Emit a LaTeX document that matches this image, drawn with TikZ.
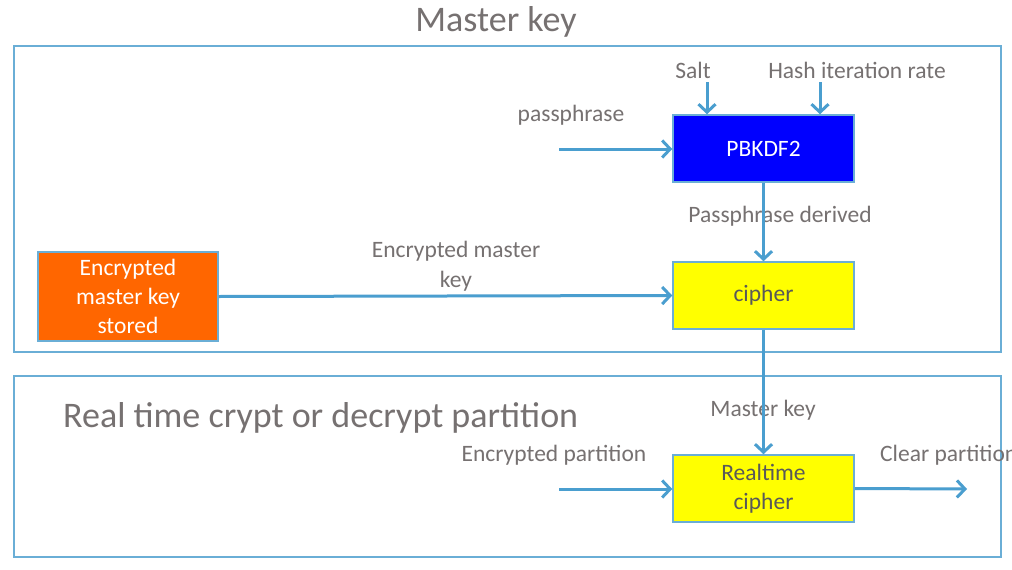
\documentclass[tikz,border=0pt]{standalone}
\usepackage{fontspec}
\setmainfont{Carlito}
\usetikzlibrary{arrows.meta}
\definecolor{framec}{HTML}{6AAED6}
\definecolor{arrowc}{HTML}{4A9ECF}
\definecolor{txt}{HTML}{767171}
\definecolor{boxtxt}{HTML}{595959}
\definecolor{orng}{HTML}{FF6600}
\definecolor{yell}{HTML}{FFFF00}
\definecolor{blu}{HTML}{0000FF}
\tikzset{
  frame/.style={draw=framec, line width=1.5pt},
  lbl/.style={text=txt, font=\fontsize{23.5}{30}\selectfont, inner sep=0pt},
  big/.style={text=txt, font=\fontsize{36}{40}\selectfont, inner sep=0pt},
  block/.style={draw=framec, line width=1.5pt, minimum width=181pt, minimum height=67pt, inner sep=0pt, align=center, font=\fontsize{23.5}{29}\selectfont},
  flow/.style={draw=arrowc, line width=3pt, -{Straight Barb[length=8pt,width=17pt]}},
}
\begin{document}
\begin{tikzpicture}[x=1pt,y=-1pt]
\useasboundingbox (0,0) rectangle (1012,570);
\clip (0,0) rectangle (1012,570);
\fill[white] (0,0) rectangle (1012,570);
% frames
\draw[frame] (14,46) rectangle (1001,352);
\draw[frame] (14,376) rectangle (1001,557);
\node[big] (title) at (496,22) {Master key};
\node[big, anchor=west] (rtitle) at (63,418) {Real time crypt or decrypt partition};
% blocks
\node[block, fill=blu, text=white] (pbkdf) at (763.5,148.5) {PBKDF2};
\node[block, fill=yell, text=boxtxt] (cipher) at (763.5,295.5) {cipher};
\node[block, fill=yell, text=boxtxt] (rt) at (763.5,488.5) {Realtime\\cipher};
\node[block, fill=orng, text=white, minimum width=180pt, minimum height=89pt] (stored) at (128,296.5) {Encrypted\\master key\\stored};
% labels
\node[lbl] (salt) at (693,70) {Salt};
\node[lbl] (hash) at (857,70) {Hash iteration rate};
\node[lbl] (pass) at (571,115) {passphrase};
\node[lbl] (pder) at (780,216) {Passphrase derived};
\node[lbl, align=center] (emk) at (456,266) {Encrypted master\\key};
\node[lbl] (mk) at (763,410) {Master key};
\node[lbl] (ep) at (554,455) {Encrypted partition};
\node[lbl, anchor=west] (cp) at (880,455) {Clear partition};
% free ends
\coordinate (saltin) at (707,82);
\coordinate (hashin) at (820,82);
\coordinate (passin) at (559,149);
\coordinate (epin) at (559,489);
\coordinate (cpout) at (967,489);
% connectors
\draw[flow] (saltin) -- (saltin |- pbkdf.north);
\draw[flow] (hashin) -- (hashin |- pbkdf.north);
\draw[flow] (passin) -- (passin -| pbkdf.west);
\draw[flow] (pbkdf.south) -- (cipher.north);
\draw[flow] (stored.east) -- (cipher.west);
\draw[flow] (cipher.south) -- (rt.north);
\draw[flow] (epin) -- (epin -| rt.west);
\draw[flow] (rt.east) -- (cpout);
\end{tikzpicture}
\end{document}
